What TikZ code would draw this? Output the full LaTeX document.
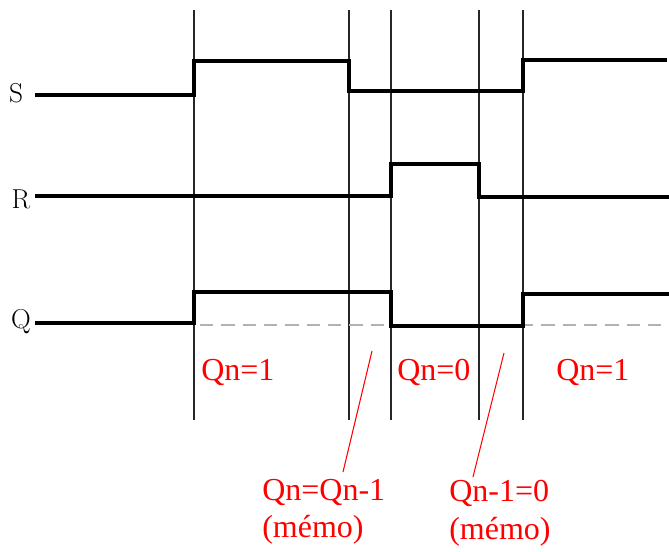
\documentclass[tikz,border=0pt]{standalone}
\usepackage{fontspec}
\newfontfamily\redfont{Liberation Serif}
\begin{document}
\begin{tikzpicture}[x=0.75pt,y=-0.75pt,
  sig/.style={line width=2.3pt,line join=miter,black},
  grid/.style={line width=1.1pt,black!85},
  ref/.style={line width=0.8pt,black!30,dash pattern=on 10pt off 6pt},
  lbl/.style={font=\fontsize{20.5}{20.5}\selectfont,anchor=base,inner sep=0pt},
  rlbl/.style={font=\redfont\fontsize{24}{24}\selectfont,text=red,anchor=base west,inner sep=0pt},
  ptr/.style={red,line width=0.8pt}]
\useasboundingbox (0,0) rectangle (669,551);
% vertical time markers
\foreach \xx/\nm in {194/a,349/b,391/c,479/d,523/e}{
  \coordinate (\nm top) at (\xx,10);
  \coordinate (\nm bot) at (\xx,420);
  \draw[grid] (\nm top) -- (\nm bot);
}
% reference dashed line
\coordinate (d0) at (200,325);
\coordinate (d1) at (669,325);
\draw[ref] (d0) -- (d1);
% signal names
\node[lbl] (S) at (16,102) {S};
\node[lbl] (R) at (21,208) {R};
\node[lbl] (Q) at (21,328) {Q};
% S
\coordinate (s0) at (35,95);
\draw[sig] (s0) -- (194,95) -- (194,61) -- (349,61) -- (349,91) -- (523,91) -- (523,60) -- (667,60);
% R
\coordinate (r0) at (35,196);
\draw[sig] (r0) -- (391,196) -- (391,164) -- (479,164) -- (479,197) -- (669,197);
% Q
\coordinate (q0) at (35,323);
\draw[sig] (q0) -- (194,323) -- (194,292) -- (391,292) -- (391,326) -- (523,326) -- (523,294) -- (669,294);
% red labels
\node[rlbl] (q1) at (201,380) {Qn=1};
\node[rlbl] (q2) at (397,380) {Qn=0};
\node[rlbl] (q3) at (556,380) {Qn=1};
\node[rlbl] (m1) at (262,500) {Qn=Qn-1};
\node[rlbl] (m1b) at (262,537) {(mémo)};
\node[rlbl] (m2) at (449,501) {Qn-1=0};
\node[rlbl] (m2b) at (449,539) {(mémo)};
% pointers
\coordinate (p1) at (372,351);
\coordinate (p1e) at (343,472);
\coordinate (p2) at (504,353);
\coordinate (p2e) at (473,477);
\draw[ptr] (p1) -- (p1e);
\draw[ptr] (p2) -- (p2e);
\end{tikzpicture}
\end{document}
